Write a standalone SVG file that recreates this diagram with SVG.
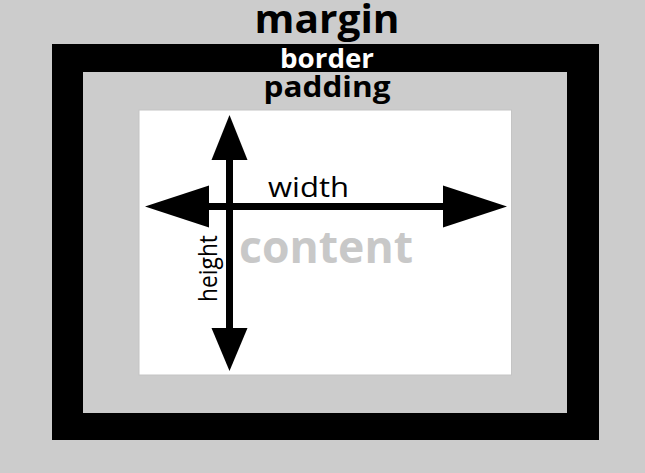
<svg xmlns="http://www.w3.org/2000/svg" width="645" height="473" viewBox="0 0 645 473">
<style>
.lbl{font-family:"Open Sans","Liberation Sans",sans-serif;}
.b{font-weight:bold;}
.arr{fill:#000;}
</style>
<rect x="0" y="0" width="645" height="473" fill="#cccccc"/>
<g id="margin">
<text class="lbl b" x="327" y="33" font-size="40" text-anchor="middle" textLength="145" lengthAdjust="spacingAndGlyphs">margin</text>
</g>
<g id="border">
<rect x="52" y="44" width="547" height="396" fill="#000"/>
<text class="lbl b" x="327" y="68" font-size="27" fill="#fff" text-anchor="middle" textLength="94" lengthAdjust="spacingAndGlyphs">border</text>
</g>
<g id="padding">
<rect x="83" y="72" width="484" height="341" fill="#cccccc"/>
<text class="lbl b" x="327" y="97" font-size="29" text-anchor="middle" textLength="127" lengthAdjust="spacingAndGlyphs">padding</text>
</g>
<g id="content">
<rect x="139" y="110" width="372.5" height="265" fill="#fff" stroke="#c4c4c4" stroke-width="1"/>
<text class="lbl b" x="239" y="263" font-size="44" fill="#c8c8c8" textLength="174" lengthAdjust="spacingAndGlyphs">content</text>
</g>
<g id="connectors">
<rect x="208" y="203" width="236" height="7" class="arr"/>
<polygon class="arr" points="145,206.5 209,185.5 209,227.5"/>
<polygon class="arr" points="507,206.5 443,185.5 443,227.5"/>
<rect x="226" y="158" width="7" height="172" class="arr"/>
<polygon class="arr" points="229.5,115 211.5,160 247.5,160"/>
<polygon class="arr" points="229.5,371 211.5,328 247.5,328"/>
<text class="lbl" x="268" y="197" font-size="27" textLength="81" lengthAdjust="spacingAndGlyphs">width</text>
<text class="lbl" transform="translate(217,302) rotate(-90)" x="0" y="0" font-size="26" textLength="67" lengthAdjust="spacingAndGlyphs">height</text>
</g>
</svg>
